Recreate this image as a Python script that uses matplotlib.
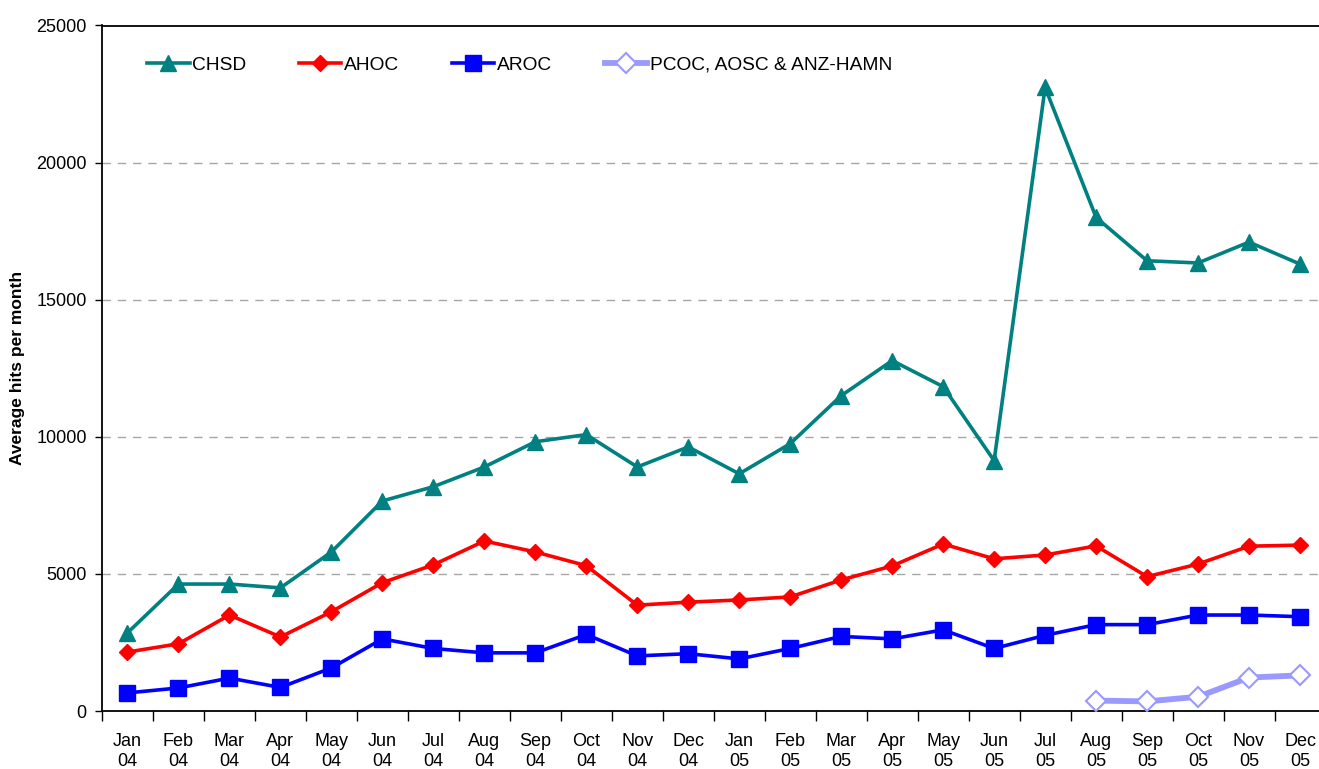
import matplotlib
matplotlib.use("Agg")
import matplotlib.pyplot as plt
from matplotlib.ticker import FixedLocator, NullFormatter

plt.rcParams['font.family'] = ['Liberation Sans', 'DejaVu Sans']

months = ["Jan\n04", "Feb\n04", "Mar\n04", "Apr\n04", "May\n04", "Jun\n04",
          "Jul\n04", "Aug\n04", "Sep\n04", "Oct\n04", "Nov\n04", "Dec\n04",
          "Jan\n05", "Feb\n05", "Mar\n05", "Apr\n05", "May\n05", "Jun\n05",
          "Jul\n05", "Aug\n05", "Sep\n05", "Oct\n05", "Nov\n05", "Dec\n05"]

chsd = [2850, 4630, 4630, 4490, 5800, 7660, 8180, 8900, 9820, 10080, 8900, 9630,
        8650, 9750, 11500, 12780, 11830, 9130, 22740, 18000, 16420, 16340, 17100, 16300]
ahoc = [2150, 2450, 3500, 2700, 3620, 4680, 5330, 6200, 5800, 5300, 3860, 3970,
        4050, 4160, 4780, 5290, 6090, 5550, 5690, 6020, 4900, 5360, 6010, 6050]
aroc = [660, 840, 1200, 860, 1570, 2630, 2280, 2120, 2120, 2790, 2010, 2090,
        1900, 2280, 2720, 2630, 2960, 2280, 2760, 3150, 3150, 3500, 3500, 3440]
pcoc_idx = [19, 20, 21, 22, 23]
pcoc = [380, 350, 520, 1220, 1300]

fig = plt.figure(figsize=(13.19, 7.69), dpi=100)
ax = fig.add_axes([102/1319, 58/769, 1223.5/1319, 685.5/769])

x = list(range(len(months)))
ax.plot(x, chsd, color='#008080', lw=2.6, marker='^', ms=11, label='CHSD', zorder=3)
ax.plot(x, ahoc, color='#FF0000', lw=2.6, marker='D', ms=8.5, label='AHOC', zorder=3)
ax.plot(x, aroc, color='#0000FF', lw=2.6, marker='s', ms=11, label='AROC', zorder=3)
ax.plot(pcoc_idx, pcoc, color='#9999FF', lw=4.2, marker='D', ms=10,
        markerfacecolor='white', markeredgecolor='#9999FF', markeredgewidth=1.5,
        label='PCOC, AOSC & ANZ-HAMN', zorder=3)

ax.set_xlim(-0.5, len(months) - 0.5)
ax.set_ylim(0, 25000)
ax.set_yticks([0, 5000, 10000, 15000, 20000, 25000])
ax.tick_params(axis='y', labelsize=13, length=5, width=1, direction='out', pad=6)

ax.xaxis.set_major_locator(FixedLocator([i - 0.5 for i in range(len(months) + 1)]))
ax.xaxis.set_major_formatter(NullFormatter())
ax.xaxis.set_minor_locator(FixedLocator(x))
ax.set_xticklabels(months, minor=True)
ax.tick_params(axis='x', which='major', length=7, width=1, direction='out')
ax.tick_params(axis='x', which='minor', length=0, labelsize=13, pad=16)
for lbl in ax.get_xticklabels(minor=True):
    lbl.set_linespacing(1.25)

for yv in [5000, 10000, 15000, 20000]:
    ax.axhline(yv, color='#a6a6a6', lw=1, ls=(0, (6, 5)), zorder=1)

for s in ['left', 'bottom', 'top', 'right']:
    ax.spines[s].set_linewidth(1.3)
    ax.spines[s].set_color('black')

ax.set_ylabel('Average hits per month', fontsize=12.5, fontweight='bold', labelpad=8)

ax.legend(loc='upper left', bbox_to_anchor=(0.023, 0.98), ncol=4, frameon=False,
          fontsize=13.8, handlelength=2.2, handletextpad=0.15, columnspacing=2.75,
          numpoints=1)

fig.savefig('out.png', dpi=100)
